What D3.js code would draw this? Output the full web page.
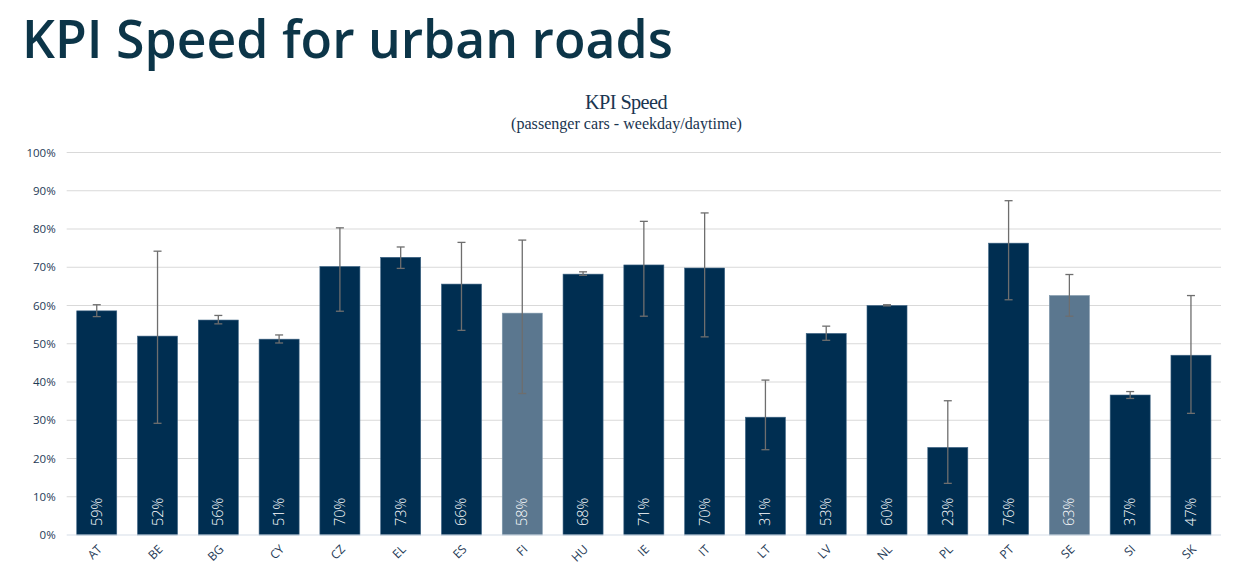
<!DOCTYPE html>
<html>
<head>
<meta charset="utf-8">
<script src="https://cdnjs.cloudflare.com/ajax/libs/d3/7.8.5/d3.min.js"></script>
<style>
  html, body { margin: 0; padding: 0; background: #ffffff; }
  svg { display: block; }
</style>
</head>
<body>
<svg id="chart" width="1259" height="581"></svg>
<script>
// ---- data ----
const categories = ["AT","BE","BG","CY","CZ","EL","ES","FI","HU","IE","IT","LT","LV","NL","PL","PT","SE","SI","SK"];
const values     = [58.6, 52.0, 56.2, 51.2, 70.2, 72.6, 65.6, 58.0, 68.2, 70.6, 69.8, 30.8, 52.7, 60.0, 22.9, 76.3, 62.6, 36.6, 47.0];
const errHigh    = [60.2, 74.2, 57.4, 52.3, 80.3, 75.3, 76.5, 77.1, 68.8, 82.0, 84.2, 40.5, 54.6, 60.2, 35.1, 87.4, 68.1, 37.5, 62.6];
const errLow     = [57.1, 29.2, 55.2, 50.2, 58.5, 69.7, 53.5, 37.0, 67.9, 57.2, 51.8, 22.3, 50.9, 59.9, 13.5, 61.5, 57.2, 35.7, 31.8];
const highlighted = ["FI", "SE"];
const yTicks = [0, 10, 20, 30, 40, 50, 60, 70, 80, 90, 100];

const titleText = "KPI Speed for urban roads";
const chartTitle = "KPI Speed";
const chartSubtitle = "(passenger cars - weekday/daytime)";

(function () {
// ---- layout ----
const svg = d3.select("#chart");
const pLeft = 66.7, pRight = 1221, pTop = 152.5, pBottom = 535;

const x = d3.scaleBand().domain(categories).range([pLeft, pRight])
  .paddingInner(0.3416).paddingOuter(0.165);
const y = d3.scaleLinear().domain([0, 100]).range([pBottom, pTop]);

const rows = categories.map((c, i) => ({ c, v: values[i], hi: errHigh[i], lo: errLow[i] }));

function fitText(sel, base, width) {
  const w = sel.node().getComputedTextLength();
  sel.attr("font-size", base * width / w);
}

// main title
const t = svg.append("text")
  .attr("x", 22).attr("y", 58)
  .attr("font-family", "'Open Sans', 'Noto Sans', sans-serif")
  .attr("font-weight", 600)
  .attr("font-size", 54)
  .attr("fill", "#0c3548")
  .text(titleText);
fitText(t, 54, 651);

// chart title
const ct = svg.append("text")
  .attr("x", 626).attr("y", 109)
  .attr("text-anchor", "middle")
  .attr("font-family", "'Liberation Serif', 'DejaVu Serif', serif")
  .attr("font-size", 20)
  .attr("letter-spacing", -0.6)
  .attr("fill", "#1a3550")
  .text(chartTitle);
fitText(ct, 20, 82);
const st = svg.append("text")
  .attr("x", 626.5).attr("y", 129)
  .attr("text-anchor", "middle")
  .attr("font-family", "'Liberation Serif', 'DejaVu Serif', serif")
  .attr("font-size", 16)
  .attr("fill", "#1a3550")
  .text(chartSubtitle);
fitText(st, 16, 231);

// gridlines
svg.append("g").selectAll("line").data(yTicks.filter(d => d > 0)).join("line")
  .attr("x1", pLeft).attr("x2", pRight)
  .attr("y1", d => y(d)).attr("y2", d => y(d))
  .attr("stroke", "#d9d9d9").attr("stroke-width", 1);

// y axis
const yAxis = d3.axisLeft(y).tickValues(yTicks).tickSize(0).tickPadding(11)
  .tickFormat(d => d + "%");
const gy = svg.append("g").attr("transform", `translate(${pLeft},0)`).call(yAxis);
gy.select(".domain").remove();
gy.selectAll("text")
  .attr("font-family", "'Open Sans', 'Noto Sans', sans-serif")
  .attr("font-size", 11.5).attr("fill", "#1e3a56");

// bars
svg.append("g").selectAll("rect").data(rows).join("rect")
  .attr("x", d => x(d.c))
  .attr("y", d => y(d.v))
  .attr("width", x.bandwidth())
  .attr("height", d => y(0) - y(d.v))
  .attr("fill", d => highlighted.includes(d.c) ? "#5b778f" : "#002e51")
  .attr("stroke", d => highlighted.includes(d.c) ? "#7f97ab" : "#3f6585")
  .attr("stroke-width", 0.6);

// baseline
svg.append("line")
  .attr("x1", pLeft).attr("x2", pRight)
  .attr("y1", y(0)).attr("y2", y(0))
  .attr("stroke", "#d5dee8").attr("stroke-width", 1.2);

// error bars
const eg = svg.append("g").attr("stroke", "#6e6e6e").attr("stroke-width", 1.3);
rows.forEach(d => {
  const cx = x(d.c) + x.bandwidth() / 2;
  eg.append("line").attr("x1", cx).attr("x2", cx).attr("y1", y(d.hi)).attr("y2", y(d.lo));
  eg.append("line").attr("x1", cx - 4).attr("x2", cx + 4).attr("y1", y(d.hi)).attr("y2", y(d.hi));
  eg.append("line").attr("x1", cx - 4).attr("x2", cx + 4).attr("y1", y(d.lo)).attr("y2", y(d.lo));
});

// value labels inside bars
svg.append("g").selectAll("text").data(rows).join("text")
  .attr("transform", d => `translate(${x(d.c) + x.bandwidth() / 2 + 5},${y(0) - 9}) rotate(-90)`)
  .attr("font-family", "'Open Sans', 'Noto Sans', sans-serif")
  .attr("font-weight", 300)
  .attr("font-size", 14.5)
  .attr("fill", "#ffffff")
  .text(d => Math.round(d.v) + "%");

// x axis labels
const xAxis = d3.axisBottom(x).tickSize(0).tickPadding(0);
const gx = svg.append("g").attr("transform", `translate(0,${pBottom})`).call(xAxis);
gx.select(".domain").remove();
gx.selectAll("text")
  .attr("font-family", "'Open Sans', 'Noto Sans', sans-serif")
  .attr("font-size", 12).attr("fill", "#1e3a56")
  .attr("text-anchor", "end")
  .attr("dy", 0)
  .attr("transform", "translate(6,15) rotate(-45)");
})();
</script>
</body>
</html>
